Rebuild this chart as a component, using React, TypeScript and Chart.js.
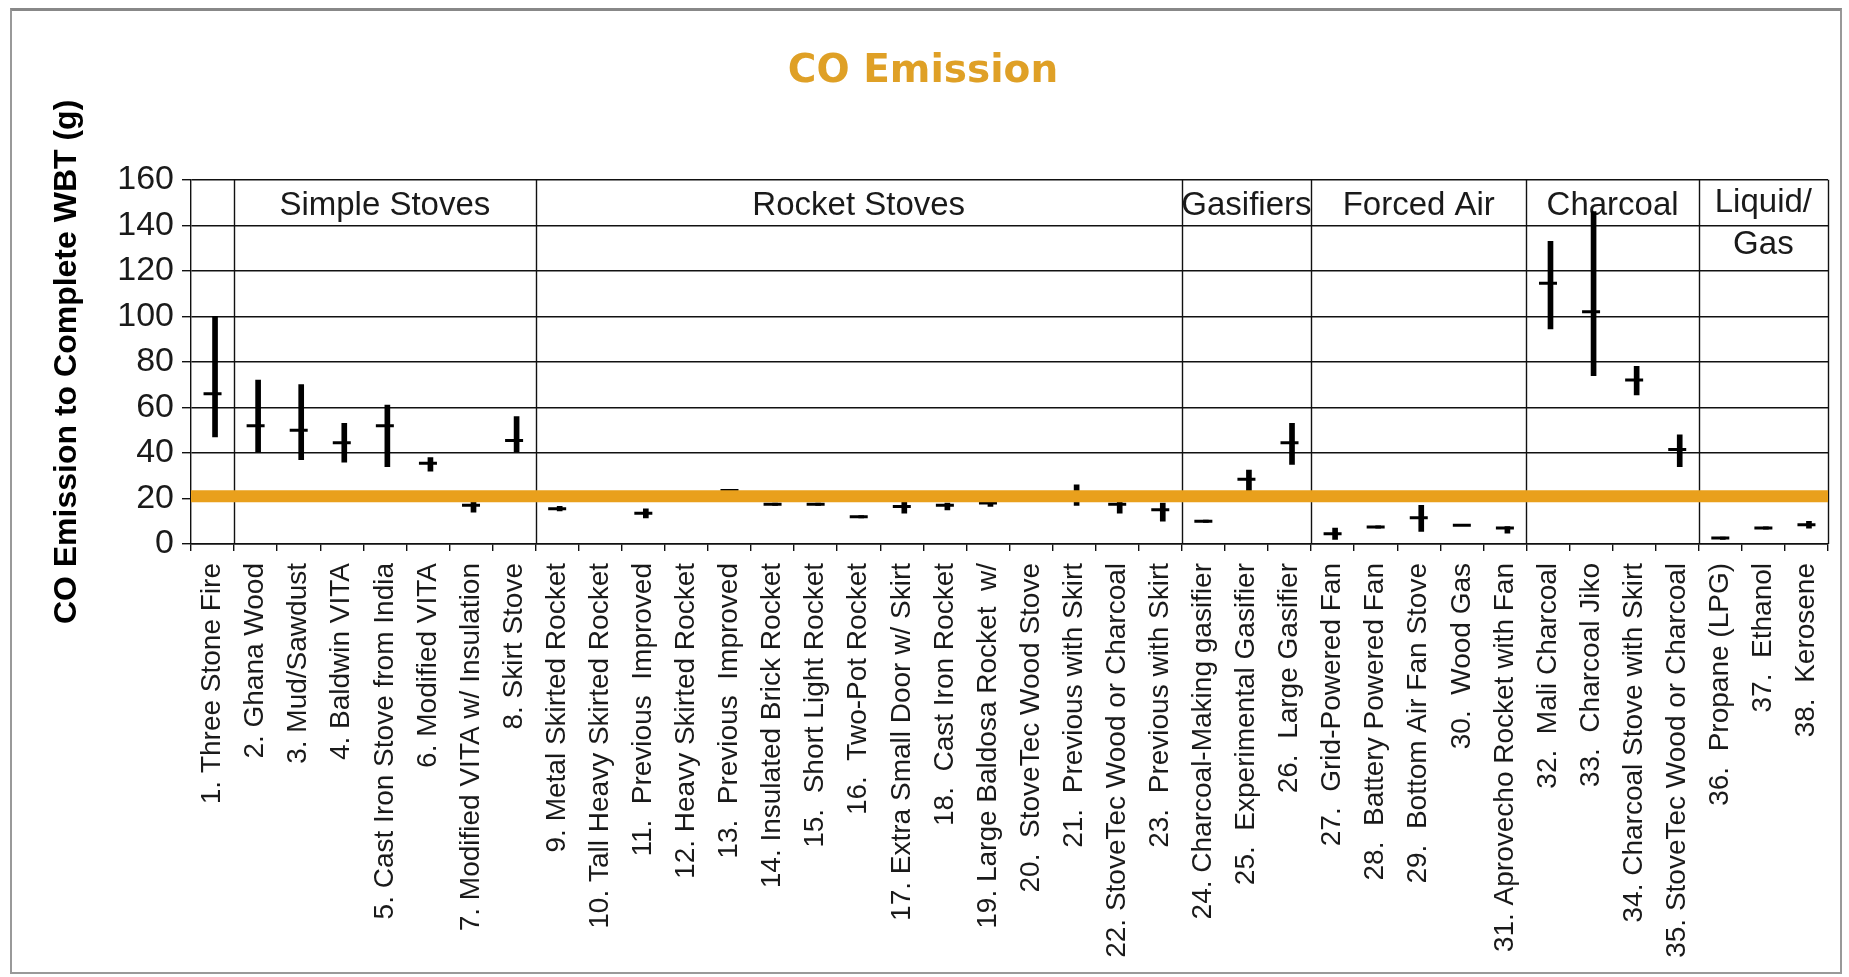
import React, { useEffect, useRef } from 'react';
import { Chart, registerables } from 'chart.js';

Chart.register(...registerables);

const categories = [
  '1. Three Stone Fire',
  '2. Ghana Wood',
  '3. Mud/Sawdust',
  '4. Baldwin VITA',
  '5. Cast Iron Stove from India',
  '6. Modified VITA',
  '7. Modified VITA w/ Insulation',
  '8. Skirt Stove',
  '9. Metal Skirted Rocket',
  '10. Tall Heavy Skirted Rocket',
  '11.  Previous  Improved',
  '12. Heavy Skirted Rocket',
  '13.  Previous  Improved',
  '14. Insulated Brick Rocket',
  '15.  Short Light Rocket',
  '16.  Two-Pot Rocket',
  '17. Extra Small Door w/ Skirt',
  '18.  Cast Iron Rocket',
  '19. Large Baldosa Rocket  w/',
  '20.  StoveTec Wood Stove',
  '21.  Previous with Skirt',
  '22. StoveTec Wood or Charcoal',
  '23.  Previous with Skirt',
  '24. Charcoal-Making gasifier',
  '25.  Experimental Gasifier',
  '26.  Large Gasifier',
  '27.  Grid-Powered Fan',
  '28.  Battery Powered Fan',
  '29.  Bottom Air Fan Stove',
  '30.  Wood Gas',
  '31. Aprovecho Rocket with Fan',
  '32.  Mali Charcoal',
  '33.  Charcoal Jiko',
  '34. Charcoal Stove with Skirt',
  '35. StoveTec Wood or Charcoal',
  '36.  Propane (LPG)',
  '37.  Ethanol',
  '38.  Kerosene',
];

const rangeLow = [
  47, 40.5, 37, 36, 34, 32, 14, 40.5,
  14.5, 19.5, 11.5, 19, 23, 17, 17, 11.5, 13.5, 15, 16.5, 20, 17, 13.5, 10,
  9.5, 23, 35,
  2, 7, 5.5, 8, 4.8,
  94.5, 74, 65.5, 34,
  2, 6.5, 7,
];

const rangeHigh = [
  100, 72, 70, 53, 61, 38, 19, 56,
  16.5, 22.5, 15.5, 20.5, 24, 18, 18, 12.5, 18.5, 18, 19, 22, 26, 18.5, 18,
  10.5, 32.5, 53,
  7, 8, 17, 8.5, 7.7,
  133, 146, 78, 48,
  3, 7.5, 10,
];

const meanValues = [
  66, 52, 50, 44.5, 52, 35.5, 17, 45.5,
  15.5, 21, 13.5, 19.5, 23.5, 17.5, 17.5, 12, 16.5, 17, 18, 21, 20.5, 17.5, 15,
  10, 28.5, 44.5,
  4.5, 7.5, 11.5, 8.2, 7,
  114.5, 102, 72, 41.5,
  2.6, 7, 8.5,
];

const benchmarkValue = 21;
const yMin = 0;
const yMax = 160;
const yStep = 20;

const sectionNames = ['Simple Stoves', 'Rocket Stoves', 'Gasifiers', 'Forced Air', 'Charcoal', 'Liquid/|Gas'];
const sectionStarts = [1, 8, 23, 26, 31, 35];
const sectionEnds = [8, 23, 26, 31, 35, 38];
const dividerPositions = [1, 8, 23, 26, 31, 35, 38];

const FONT = '"Liberation Sans", Arial, sans-serif';

const sectionPlugin = {
  id: 'sections',
  beforeDatasetsDraw(chart: any) {
    const { ctx, chartArea } = chart;
    const x2 = chart.scales.x2;
    const y = chart.scales.y;
    ctx.save();
    ctx.strokeStyle = '#111';
    ctx.lineWidth = 1.4;
    dividerPositions.forEach((p) => {
      const px = Math.round(x2.getPixelForValue(p)) + 0.5;
      ctx.beginPath();
      ctx.moveTo(px, chartArea.top);
      ctx.lineTo(px, chartArea.bottom);
      ctx.stroke();
    });
    ctx.fillStyle = '#1a1a1a';
    ctx.font = `33px ${FONT}`;
    ctx.textAlign = 'center';
    ctx.textBaseline = 'middle';
    sectionNames.forEach((name, i) => {
      const cx = x2.getPixelForValue((sectionStarts[i] + sectionEnds[i]) / 2);
      const lines = name.split('|');
      if (lines.length === 1) {
        ctx.fillText(lines[0], cx, y.getPixelForValue(148.5));
      } else {
        ctx.fillText(lines[0], cx, y.getPixelForValue(150));
        ctx.fillText(lines[1], cx, y.getPixelForValue(131.5));
      }
    });
    ctx.restore();
  },
};

export default function App() {
  const canvasRef = useRef<HTMLCanvasElement | null>(null);

  useEffect(() => {
    if (!canvasRef.current) return;
    const chart = new Chart(canvasRef.current, {
      type: 'bar',
      data: {
        labels: categories,
        datasets: [
          {
            type: 'line',
            label: 'Benchmark',
            xAxisID: 'x2',
            data: [
              { x: 0, y: benchmarkValue },
              { x: categories.length, y: benchmarkValue },
            ],
            borderColor: '#E9A01C',
            borderWidth: 12,
            pointRadius: 0,
            order: 0,
          } as any,
          {
            type: 'line',
            label: 'Mean',
            data: meanValues,
            showLine: false,
            pointStyle: 'line',
            pointRadius: 9,
            pointHoverRadius: 9,
            pointBorderWidth: 3,
            pointBorderColor: '#000',
            pointBackgroundColor: '#000',
            order: 1,
          } as any,
          {
            type: 'bar',
            label: 'Range',
            data: rangeLow.map((lo, i) => [lo, rangeHigh[i]]),
            backgroundColor: '#000',
            barThickness: 5,
            order: 2,
          } as any,
        ],
      },
      options: {
        responsive: true,
        maintainAspectRatio: false,
        animation: false,
        events: [],
        layout: { padding: { left: 0, right: 6, top: 0, bottom: 0 } },
        plugins: {
          legend: { display: false },
          tooltip: { enabled: false },
          title: {
            display: true,
            text: 'CO Emission',
            color: '#DFA026',
            font: { family: '"DejaVu Sans", Verdana, sans-serif', size: 39, weight: 'bold', lineHeight: 1.2 },
            padding: { top: 37, bottom: 85 },
          },
        },
        scales: {
          x: {
            type: 'category',
            offset: true,
            grid: {
              offset: true,
              drawOnChartArea: false,
              drawTicks: true,
              tickLength: 7,
              color: '#111',
              lineWidth: 1.4,
            },
            border: { display: true, color: '#111', width: 1.4 },
            ticks: {
              autoSkip: false,
              maxRotation: 90,
              minRotation: 90,
              padding: 12,
              color: '#1a1a1a',
              font: { family: FONT, size: 28 },
            },
            afterFit(scale: any) {
              scale.height = 428;
              scale.paddingLeft = 0;
              scale.paddingRight = 0;
            },
          },
          x2: {
            type: 'linear',
            position: 'bottom',
            display: false,
            offset: false,
            grid: { offset: false },
            bounds: 'ticks',
            min: 0,
            max: categories.length,
            afterFit(scale: any) {
              scale.paddingLeft = 0;
              scale.paddingRight = 0;
            },
          },
          y: {
            min: yMin,
            max: yMax,
            ticks: {
              stepSize: yStep,
              padding: 8,
              color: '#1a1a1a',
              font: { family: FONT, size: 34 },
            },
            grid: {
              color: '#111',
              lineWidth: 1.4,
              drawTicks: true,
              tickLength: 9,
            },
            border: { display: true, color: '#111', width: 1.4 },
            title: {
              display: true,
              text: 'CO Emission to Complete WBT (g)',
              color: '#000',
              font: { family: FONT, size: 32, weight: 'bold' },
              padding: { top: 36, bottom: 0 },
            },
            afterFit(scale: any) {
              scale.width = 179;
              scale.paddingTop = 0;
              scale.paddingBottom = 0;
            },
          },
        },
      } as any,
      plugins: [sectionPlugin],
    });
    return () => chart.destroy();
  }, []);

  return (
    <div
      style={{
        position: 'absolute',
        left: 10,
        top: 8,
        width: 1832,
        height: 966,
        boxSizing: 'border-box',
        border: '2px solid #999',
        borderTop: '3px solid #888',
        background: '#fff',
      }}
    >
      <div style={{ position: 'relative', width: '100%', height: '100%' }}>
        <canvas ref={canvasRef} />
      </div>
    </div>
  );
}
